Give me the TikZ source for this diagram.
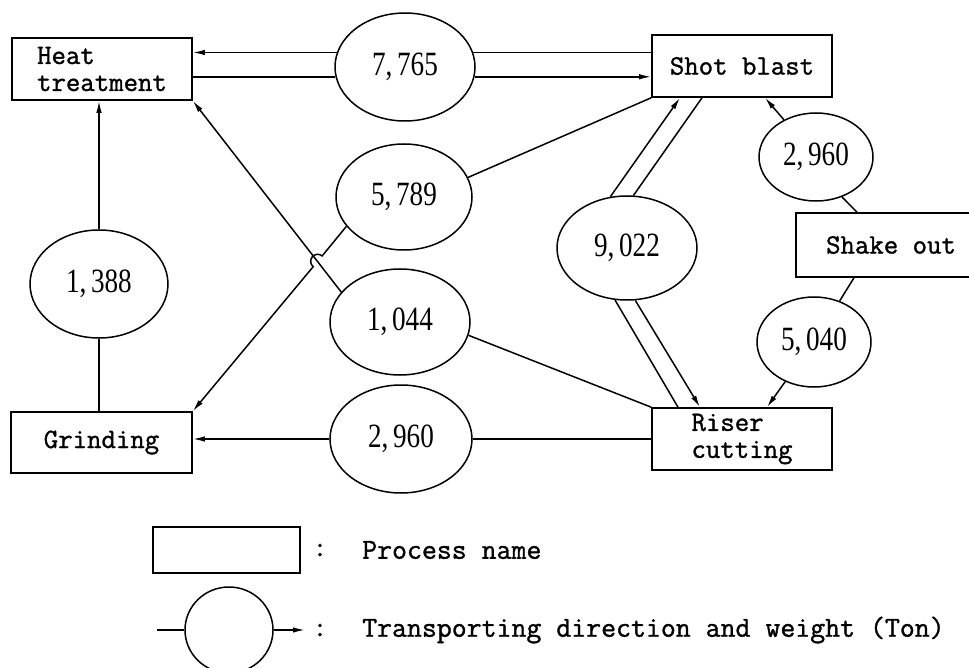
\documentclass[tikz,border=0pt]{standalone}
\usepackage{graphicx}
\usepackage{fontspec}
\setmainfont{Liberation Serif}
\newfontfamily\boxfont[FakeBold=1.2]{Latin Modern Mono}
\usetikzlibrary{shapes.geometric,arrows.meta}
\newcommand{\wnum}[1]{\scalebox{0.8}[1]{\fontsize{34}{36}\selectfont #1}}
\tikzset{
  box/.style={draw, rectangle, line width=1.6pt, inner sep=0pt,
    font=\boxfont\fontsize{28}{27}\selectfont, align=center},
  wt/.style={draw, ellipse, line width=1.5pt, inner sep=0pt},
  ln/.style={line width=1.5pt},
  arr/.style={line width=1.5pt, -{Latex[length=12pt,width=5.5pt]}},
  lgtext/.style={inner sep=0pt, font=\boxfont\fontsize{29}{30}\selectfont},
}
\begin{document}
\begin{tikzpicture}[x=1pt,y=1pt]
\useasboundingbox (0,0) rectangle (969,-668);
\clip (0,0) rectangle (969,-668);
% process boxes
\node[box, minimum width=180pt, minimum height=62pt, align=left] (heat) at (102,-69) {Heat\\treatment};
\node[box, minimum width=180pt, minimum height=62pt] (shot) at (742,-66) {Shot blast};
\node[box, minimum width=190pt, minimum height=64pt] (shake) at (891,-245) {Shake out};
\node[box, minimum width=180pt, minimum height=62pt, align=left] (riser) at (742,-439) {Riser\\cutting};
\node[box, minimum width=181pt, minimum height=61pt] (grind) at (101.5,-442.5) {Grinding};
% weight ellipses
\node[wt, minimum width=140pt, minimum height=108pt] (e7765) at (405,-67) {\wnum{7,\,765}};
\node[wt, minimum width=136pt, minimum height=106pt] (e5789) at (404,-197) {\wnum{5,\,789}};
\node[wt, minimum width=140pt, minimum height=106pt] (e1044) at (400,-322) {\wnum{1,\,044}};
\node[wt, minimum width=142pt, minimum height=108pt] (e2960b) at (401,-439) {\wnum{2,\,960}};
\node[wt, minimum width=138pt, minimum height=108pt] (e1388) at (99,-284) {\wnum{1,\,388}};
\node[wt, minimum width=140pt, minimum height=104pt] (e9022) at (627,-248) {\wnum{9,\,022}};
\node[wt, minimum width=114pt, minimum height=88pt] (e2960a) at (816,-157) {\wnum{2,\,960}};
\node[wt, minimum width=114pt, minimum height=90pt] (e5040) at (814,-342) {\wnum{5,\,040}};
% heat treatment <-> shot blast
\draw[ln] (shot.west |- e7765.12) -- (e7765.12);
\draw[arr] (e7765.168) -- (heat.east |- e7765.168);
\draw[ln] (heat.east |- e7765.188) -- (e7765.188);
\draw[arr] (e7765.352) -- (shot.west |- e7765.352);
% shake out -> shot blast
\draw[ln] ([xshift=-34pt]shake.north) -- (e2960a.-57);
\draw[arr] (e2960a) -- ([xshift=23pt]shot.south);
% shake out -> riser cutting
\draw[ln] ([xshift=-37pt]shake.south) -- (e5040.58);
\draw[arr] (e5040.234) -- ([xshift=25pt]riser.north);
% riser cutting -> shot blast
\draw[ln] ([xshift=-64pt]riser.north) -- (e9022.257);
\draw[arr] (e9022.108) -- ([xshift=-62pt]shot.south);
% shot blast -> riser cutting
\draw[ln] ([xshift=-40pt]shot.south) -- (e9022.83);
\draw[arr] (e9022.279) -- ([xshift=-42pt]riser.north);
% shot blast -> grinding (with hop)
\coordinate (hopA) at (322.15,-255.92);
\draw[ln] (shot.south west) -- (e5789.17);
\draw[arr] (e5789.207) -- (hopA) arc[start angle=50.18, end angle=230.18, radius=7] -- (grind.north east);
% riser cutting -> heat treatment
\draw[ln] (riser.north west) -- (e1044.349);
\draw[arr] (e1044.153) -- (heat.south east);
% riser cutting -> grinding
\draw[ln] (riser.west |- e2960b.east) -- (e2960b.east);
\draw[arr] (e2960b.west) -- (grind.east |- e2960b.west);
% grinding -> heat treatment
\draw[ln] (grind.north -| e1388) -- (e1388);
\draw[arr] (e1388) -- (heat.south -| e1388);
% legend
\node[box, minimum width=147pt, minimum height=46pt] (lbox) at (226.5,-550) {};
\node[lgtext] (lc1) at (320,-550) {:};
\node[lgtext, anchor=west] (lt1) at (362,-550) {Process name};
\node[wt, minimum width=88pt, minimum height=86pt] (lell) at (229,-630) {};
\coordinate (lgL) at (157,-630);
\coordinate (lgR) at (305,-630);
\draw[ln] (lgL) -- (lell);
\draw[arr] (lell) -- (lgR);
\node[lgtext] (lc2) at (320,-630) {:};
\node[lgtext, anchor=west] (lt2) at (362,-630) {Transporting direction and weight (Ton)};
\end{tikzpicture}
\end{document}
